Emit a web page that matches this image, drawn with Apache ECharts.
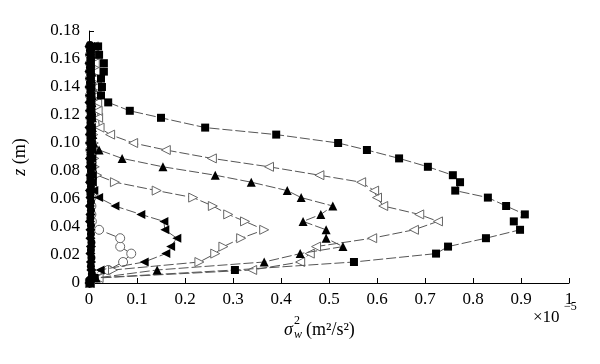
<!DOCTYPE html>
<html>
<head>
<meta charset="utf-8">
<script src="https://cdn.jsdelivr.net/npm/echarts@6/dist/echarts.min.js"></script>
<style>html,body{margin:0;padding:0;background:#fff}#c{width:600px;height:364px}</style>
</head>
<body>
<div id="c"></div>
<script>
// Heights z (m) at which each profile was sampled
var zLevels = [0, 0.0036, 0.0093, 0.015, 0.021, 0.026, 0.032, 0.038, 0.044, 0.049, 0.055, 0.061, 0.066, 0.072, 0.077, 0.083, 0.089, 0.095, 0.100, 0.106, 0.111, 0.118, 0.123, 0.129, 0.134, 0.140, 0.146, 0.151, 0.157, 0.163, 0.169];
// intermediate heights for the near-zero profile
var zMid = [0.0018, 0.0065, 0.012, 0.018, 0.0235, 0.029, 0.035, 0.041, 0.0465, 0.052, 0.058, 0.0635, 0.069, 0.0745, 0.080, 0.086, 0.092, 0.0975, 0.103, 0.1085, 0.1145, 0.1205, 0.126, 0.1315, 0.137, 0.143, 0.1485, 0.154, 0.160, 0.166, 0.170];
// sigma_w^2 (x 1e-5 m^2/s^2) for each profile
var filledSquare = [0.002, 0.012, 0.304, 0.552, 0.723, 0.748, 0.827, 0.898, 0.885, 0.908, 0.869, 0.831, 0.763, 0.773, 0.758, 0.706, 0.646, 0.579, 0.519, 0.390, 0.242, 0.150, 0.085, 0.040, 0.025, 0.027, 0.025, 0.031, 0.031, 0.021, 0.019];
var openLeftTri = [0.002, 0.020, 0.340, 0.440, 0.460, 0.473, 0.590, 0.677, 0.727, 0.688, 0.613, 0.600, 0.594, 0.567, 0.480, 0.375, 0.256, 0.160, 0.092, 0.044, 0.022, 0.019, 0.018, 0.017, 0.016, 0.015, 0.014, 0.013, 0.012, 0.011, 0.010];
var filledUpTri = [0.002, 0.015, 0.142, 0.365, 0.440, 0.529, 0.494, 0.494, 0.446, 0.483, 0.508, 0.442, 0.413, 0.338, 0.263, 0.154, 0.069, 0.021, 0.010, 0.008, 0.007, 0.007, 0.006, 0.006, 0.006, 0.005, 0.005, 0.005, 0.004, 0.004, 0.004];
var openRightTri = [0.002, 0.010, 0.050, 0.230, 0.263, 0.280, 0.317, 0.365, 0.325, 0.290, 0.258, 0.217, 0.141, 0.054, 0.017, 0.012, 0.011, 0.010, 0.010, 0.009, 0.009, 0.008, 0.008, 0.008, 0.007, 0.007, 0.007, 0.006, 0.006, 0.006, 0.006];
var filledLeftTri = [0.002, 0.008, 0.023, 0.115, 0.160, 0.170, 0.183, 0.158, 0.156, 0.108, 0.054, 0.020, 0.010, 0.007, 0.007, 0.006, 0.006, 0.006, 0.005, 0.005, 0.005, 0.005, 0.004, 0.004, 0.004, 0.004, 0.003, 0.003, 0.003, 0.003, 0.003];
var openCircle = [0.002, 0.008, 0.040, 0.071, 0.088, 0.065, 0.065, 0.021, 0.006, 0.005, 0.005, 0.005, 0.004, 0.004, 0.004, 0.004, 0.004, 0.003, 0.003, 0.003, 0.003, 0.003, 0.003, 0.003, 0.002, 0.002, 0.002, 0.002, 0.002, 0.002, 0.002];
var filledDiamond = [0.001, 0.004, 0.005, 0.004, 0.003, 0.004, 0.003, 0.003, 0.002, 0.003, 0.002, 0.003, 0.002, 0.002, 0.003, 0.002, 0.002, 0.003, 0.002, 0.002, 0.001, 0.002, 0.002, 0.001, 0.002, 0.001, 0.002, 0.001, 0.001, 0.002, 0.001];
var filledDot = [0.001, 0.006, 0.004, 0.005, 0.004, 0.005, 0.004, 0.004, 0.003, 0.004, 0.004, 0.003, 0.004, 0.003, 0.004, 0.003, 0.003, 0.004, 0.003, 0.003, 0.003, 0.004, 0.003, 0.003, 0.003, 0.002, 0.003, 0.002, 0.003, 0.002, 0.002];
var xTickLabels = ['0', '0.1', '0.2', '0.3', '0.4', '0.5', '0.6', '0.7', '0.8', '0.9', '1'];
var yTickLabels = ['0', '0.02', '0.04', '0.06', '0.08', '0.10', '0.12', '0.14', '0.16', '0.18'];

function pairs(xs, zs) { return xs.map(function (x, i) { return [x, zs[i]]; }); }

var FONT = '"Liberation Serif", "DejaVu Serif", serif';
var lineStyle = { color: '#555', width: 1, type: [10, 3] };

function mk(name, xs, zs, symbol, size, rot, filled) {
  return {
    name: name, type: 'line', data: pairs(xs, zs), symbol: symbol, symbolSize: size,
    symbolRotate: rot, showAllSymbol: true, lineStyle: lineStyle,
    itemStyle: filled ? { color: '#000', borderColor: '#000', borderWidth: 0 }
                      : { color: '#fff', borderColor: '#666', borderWidth: 1 },
    emphasis: { disabled: true }, animation: false, z: filled ? 3 : 2
  };
}

function txt(x, y, text, size, italic) {
  return { type: 'text', x: x, y: y,
    style: { text: text, fontFamily: FONT, fontSize: size, fontStyle: italic ? 'italic' : 'normal',
      fill: '#000', align: 'left', verticalAlign: 'middle' } };
}

var chart = echarts.init(document.getElementById('c'), null, { renderer: 'canvas' });
chart.setOption({
  animation: false,
  grid: { left: 89, right: 31, top: 31, bottom: 81, containLabel: false },
  xAxis: {
    type: 'value', min: 0, max: 1, interval: 0.1,
    axisLine: { show: true, lineStyle: { color: '#000', width: 1 } },
    axisTick: { show: true, inside: true, length: 5, lineStyle: { color: '#000' } },
    axisLabel: { margin: 8, color: '#000', fontFamily: FONT, fontSize: 17,
      formatter: function (v) { return xTickLabels[Math.round(v * 10)]; } },
    splitLine: { show: false }
  },
  yAxis: {
    type: 'value', min: 0, max: 0.18, interval: 0.02,
    axisLine: { show: true, lineStyle: { color: '#000', width: 1 } },
    axisTick: { show: true, inside: true, length: 5, lineStyle: { color: '#000' } },
    axisLabel: { margin: 9, color: '#000', fontFamily: FONT, fontSize: 17,
      formatter: function (v) { return yTickLabels[Math.round(v * 50)]; } },
    splitLine: { show: false }
  },
  series: [
    mk('dot', filledDot, zMid, 'circle', 8, 0, true),
    mk('diamond', filledDiamond, zLevels, 'diamond', 10, 0, true),
    mk('openCircle', openCircle, zLevels, 'circle', 9, 0, false),
    mk('filledLeftTri', filledLeftTri, zLevels, 'triangle', 9, 90, true),
    mk('openRightTri', openRightTri, zLevels, 'triangle', 9, -90, false),
    mk('filledUpTri', filledUpTri, zLevels, 'triangle', 9, 0, true),
    mk('openLeftTri', openLeftTri, zLevels, 'triangle', 9, 90, false),
    mk('filledSquare', filledSquare, zLevels, 'rect', 8, 0, true)
  ],
  graphic: [
    { type: 'text', x: 20, y: 157, rotation: Math.PI / 2,
      style: { text: '{i|z} (m)', rich: { i: { fontStyle: 'italic', fontFamily: FONT, fontSize: 18 } },
        fontFamily: FONT, fontSize: 18, fill: '#000', align: 'center', verticalAlign: 'middle' } },
    txt(284, 330, 'σ', 18, true),
    txt(294, 335, 'w', 12, true),
    txt(294, 321, '2', 12, false),
    txt(306, 330, '(m²/s²)', 18, false),
    txt(533, 318, '×10', 17, false),
    txt(564, 307, '−5', 12, false)
  ]
});
</script>
</body>
</html>
